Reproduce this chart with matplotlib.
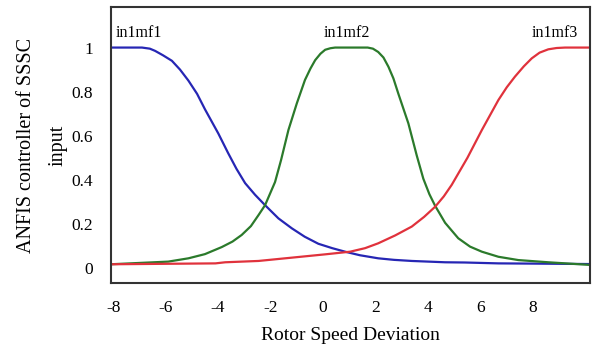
import numpy as np
import matplotlib
matplotlib.use("Agg")
from matplotlib import pyplot as plt

# membership functions of the input "Rotor Speed Deviation"
mf_names = ["in1mf1", "in1mf2", "in1mf3"]

mf1_x = [-8.08, -6.9, -6.6, -6.4, -6.1, -5.76, -5.45, -5.13, -4.8, -4.5,
         -3.99, -3.62, -3.3, -2.97, -2.59, -2.21, -1.7, -1.19, -0.7,
         -0.18, 0.35, 0.84, 1.4, 2.1, 2.7, 3.38, 4.65, 5.4, 6.68, 7.95, 10.17]
mf1_y = [1.0, 1.0, 0.995, 0.985, 0.965, 0.94, 0.9, 0.85, 0.79, 0.72,
         0.61, 0.522, 0.45, 0.385, 0.332, 0.285, 0.225, 0.18, 0.142,
         0.11, 0.09, 0.074, 0.058, 0.044, 0.037, 0.032, 0.026, 0.025, 0.021, 0.02, 0.018]

mf2_x = [-8.08, -5.9, -5.13, -4.5, -3.86, -3.45, -3.1, -2.75, -2.46, -2.21,
         -1.83, -1.6, -1.32, -1.0, -0.69, -0.48, -0.3, -0.1, 0.08, 0.28,
         0.46, 0.84, 1.7, 1.9, 2.1, 2.3, 2.49, 2.68, 2.87, 3.25, 3.57, 3.82,
         4.05, 4.27, 4.65, 5.15, 5.6, 6.05, 6.68, 7.44, 8.58, 10.17]
mf2_y = [0.017, 0.029, 0.044, 0.063, 0.095, 0.12, 0.15, 0.19, 0.24, 0.285,
         0.39, 0.49, 0.626, 0.747, 0.853, 0.905, 0.943, 0.972, 0.99, 0.997,
         1.0, 1.0, 1.0, 0.995, 0.98, 0.955, 0.913, 0.86, 0.79, 0.656, 0.51, 0.405,
         0.335, 0.282, 0.205, 0.135, 0.097, 0.074, 0.051, 0.036, 0.026, 0.014]

mf3_x = [-8.08, -4.1, -3.73, -2.46, -1.19, 0.08, 1.03, 1.6, 2.1, 2.75,
         3.38, 3.85, 4.27, 4.6, 4.9, 5.5, 6.05, 6.68, 7.0, 7.31, 7.65,
         7.95, 8.25, 8.58, 8.9, 9.22, 10.17]
mf3_y = [0.017, 0.021, 0.026, 0.032, 0.047, 0.062, 0.074, 0.09, 0.112, 0.148,
         0.188, 0.232, 0.278, 0.325, 0.377, 0.5, 0.626, 0.762, 0.82, 0.868, 0.915,
         0.951, 0.977, 0.992, 0.998, 1.0, 1.0]

x_ticks = [-8, -6, -4, -2, 0, 2, 4, 6, 8]
y_ticks = [0, 0.2, 0.4, 0.6, 0.8, 1]
y_tick_labels = ["0", "0.2", "0.4", "0.6", "0.8", "1"]

plt.rcParams["font.family"] = ["Liberation Serif", "DejaVu Serif"]
plt.rcParams["axes.unicode_minus"] = False

fig = plt.figure(figsize=(5.94, 3.47), dpi=100)
ax = fig.add_axes([111 / 594, 64 / 347, 479 / 594, 276 / 347])

ax.plot(mf1_x, mf1_y, color="#2626b4", lw=1.6, solid_joinstyle="round")
ax.plot(mf2_x, mf2_y, color="#2b7a2b", lw=1.6, solid_joinstyle="round")
ax.plot(mf3_x, mf3_y, color="#e0323c", lw=1.6, solid_joinstyle="round")

# names over each function
ax.text(-7.9, 1.066, mf_names[0], fontsize=11.5, ha="left", va="center")
ax.text(0.91, 1.066, mf_names[1], fontsize=11.5, ha="center", va="center")
ax.text(8.84, 1.066, mf_names[2], fontsize=11.5, ha="center", va="center")

ax.set_xlim(-8.08, 10.17)
ax.set_ylim(-0.068, 1.184)
ax.set_xticks(x_ticks)
ax.set_yticks(y_ticks)
ax.set_yticklabels(y_tick_labels)
ax.tick_params(axis="x", length=0, pad=12, labelsize=12.5)
ax.tick_params(axis="y", length=0, pad=13, labelsize=12.5)

for s in ax.spines.values():
    s.set_color("#333333")
    s.set_linewidth(1.5)

ax.set_xlabel("Rotor Speed Deviation", fontsize=14, labelpad=8)
ax.set_ylabel("ANFIS controller of SSSC\ninput", fontsize=14.5, labelpad=3,
              linespacing=1.9)

plt.savefig("out.png", dpi=100)
